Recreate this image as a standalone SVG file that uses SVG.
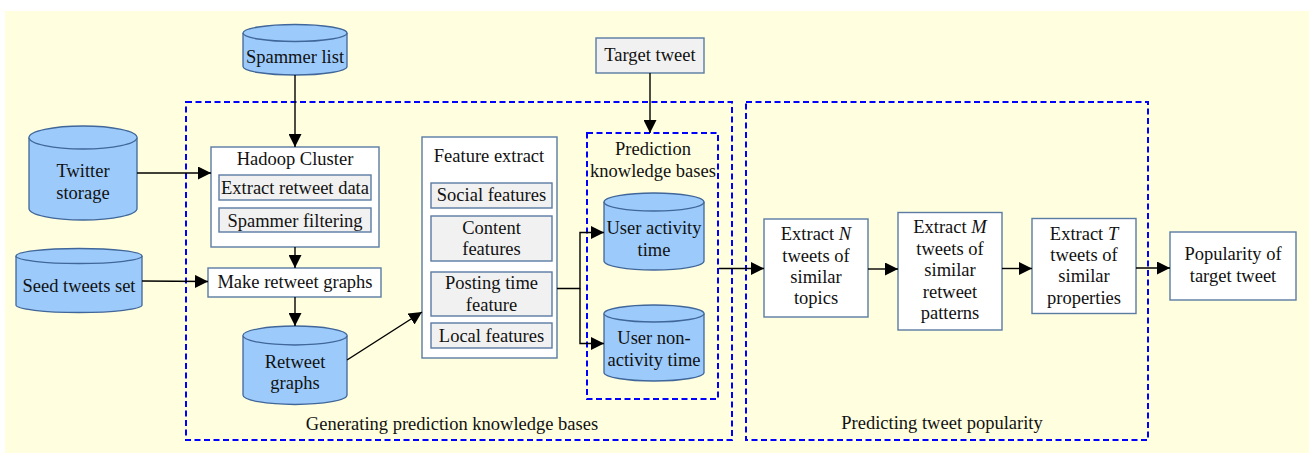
<svg xmlns="http://www.w3.org/2000/svg" width="1309" height="453" viewBox="0 0 1309 453">
<style>
text{font-family:"Liberation Serif","Times New Roman",serif;font-size:18.5px;fill:#111;text-anchor:middle}
.box{fill:#fff;stroke:#5b7ba3;stroke-width:1.4}
.inner{fill:#f1f1f1;stroke:#5b7ba3;stroke-width:1.4}
.cyl{fill:#9ccbfb;stroke:#40669a;stroke-width:1.3}
.dash{fill:none;stroke:#0000ff;stroke-width:2;stroke-dasharray:6,3.5}
.conn{fill:none;stroke:#000;stroke-width:1.4}
</style>
<defs>
<marker id="ah" markerUnits="userSpaceOnUse" markerWidth="13" markerHeight="13" refX="13" refY="6.5" orient="auto">
<path d="M0,0 L13,6.5 L0,13 z" fill="#000"/>
</marker>
</defs>
<rect x="5" y="11" width="1304" height="442" fill="#ffffdf"/>

<g id="groups">
<rect class="dash" x="186" y="102" width="546" height="338"/>
<text x="452" y="430">Generating prediction knowledge bases</text>
<rect class="dash" x="746" y="102" width="402" height="338"/>
<text x="942" y="428.5">Predicting tweet popularity</text>
</g>

<g id="spammer-list">
<path class="cyl" d="M243,33 v33.5 a52,8.5 0 0 0 104,0 v-33.5 a52,8.5 0 0 0 -104,0 z"/>
<path class="cyl" d="M243,33 a52,8.5 0 0 0 104,0" fill="none"/>
<text x="295" y="63">Spammer list</text>
</g>

<g id="twitter-storage">
<path class="cyl" d="M29,137.5 v71 a54,11.5 0 0 0 108,0 v-71 a54,11.5 0 0 0 -108,0 z"/>
<path class="cyl" d="M29,137.5 a54,11.5 0 0 0 108,0" fill="none"/>
<text x="83" y="177">Twitter</text>
<text x="83" y="199">storage</text>
</g>

<g id="seed-tweets">
<path class="cyl" d="M16,256 v49 a63,7.5 0 0 0 126,0 v-49 a63,7.5 0 0 0 -126,0 z"/>
<path class="cyl" d="M16,256 a63,7.5 0 0 0 126,0" fill="none"/>
<text x="79" y="292">Seed tweets set</text>
</g>

<g id="hadoop">
<rect class="box" x="211" y="147" width="168" height="100"/>
<text x="295" y="165">Hadoop Cluster</text>
<rect class="inner" x="219" y="175" width="152" height="25"/>
<text x="295" y="194">Extract retweet data</text>
<rect class="inner" x="219" y="208" width="152" height="24"/>
<text x="295" y="226.5">Spammer filtering</text>
</g>

<g id="make-graphs">
<rect class="box" x="208" y="268" width="173" height="29"/>
<text x="295" y="288">Make retweet graphs</text>
</g>

<g id="retweet-graphs">
<path class="cyl" d="M243,335.5 v59.5 a52,9.5 0 0 0 104,0 v-59.5 a52,9.5 0 0 0 -104,0 z"/>
<path class="cyl" d="M243,335.5 a52,9.5 0 0 0 104,0" fill="none"/>
<text x="295" y="367.5">Retweet</text>
<text x="295" y="389">graphs</text>
</g>

<g id="feature-extract">
<rect class="box" x="422" y="137" width="135" height="221"/>
<text x="489" y="162">Feature extract</text>
<rect class="inner" x="431" y="183" width="121" height="25"/>
<text x="491.5" y="200.5">Social features</text>
<rect class="inner" x="431" y="216" width="121" height="45"/>
<text x="491.5" y="233.5">Content</text>
<text x="491.5" y="254.5">features</text>
<rect class="inner" x="431" y="272" width="121" height="44"/>
<text x="491.5" y="288.5">Posting time</text>
<text x="491.5" y="310.5">feature</text>
<rect class="inner" x="431" y="323" width="121" height="25"/>
<text x="491.5" y="341.5">Local features</text>
</g>

<g id="target-tweet">
<rect class="inner" x="596" y="38" width="108" height="35"/>
<text x="650" y="61">Target tweet</text>
</g>

<g id="prediction-kb">
<rect class="dash" x="587" y="133" width="131" height="266"/>
<text x="653" y="155">Prediction</text>
<text x="653" y="176.5">knowledge bases</text>
</g>

<g id="user-activity">
<path class="cyl" d="M604,202 v59 a50,9 0 0 0 100,0 v-59 a50,9 0 0 0 -100,0 z"/>
<path class="cyl" d="M604,202 a50,9 0 0 0 100,0" fill="none"/>
<text x="654" y="233.5">User activity</text>
<text x="654" y="255.5">time</text>
</g>

<g id="user-nonactivity">
<path class="cyl" d="M604,313.5 v59 a50,8.5 0 0 0 100,0 v-59 a50,8.5 0 0 0 -100,0 z"/>
<path class="cyl" d="M604,313.5 a50,8.5 0 0 0 100,0" fill="none"/>
<text x="654" y="344">User non-</text>
<text x="654" y="366">activity time</text>
</g>

<g id="extract-n">
<rect class="box" x="764" y="219" width="104" height="98"/>
<text x="816" y="240">Extract <tspan font-style="italic">N</tspan></text>
<text x="816" y="261.5">tweets of</text>
<text x="816" y="283">similar</text>
<text x="816" y="304">topics</text>
</g>

<g id="extract-m">
<rect class="box" x="898" y="212.5" width="104" height="117.5"/>
<text x="950" y="233">Extract <tspan font-style="italic">M</tspan></text>
<text x="950" y="254.5">tweets of</text>
<text x="950" y="276">similar</text>
<text x="950" y="297.5">retweet</text>
<text x="950" y="319">patterns</text>
</g>

<g id="extract-t">
<rect class="box" x="1032" y="218.5" width="104" height="95"/>
<text x="1084" y="239.5">Extract <tspan font-style="italic">T</tspan></text>
<text x="1084" y="261">tweets of</text>
<text x="1084" y="282">similar</text>
<text x="1084" y="303.5">properties</text>
</g>

<g id="popularity">
<rect class="box" x="1170" y="232" width="126" height="68"/>
<text x="1233" y="260">Popularity of</text>
<text x="1233" y="282">target tweet</text>
</g>

<g id="connectors">
<line class="conn" x1="295" y1="75" x2="295" y2="147" marker-end="url(#ah)"/>
<line class="conn" x1="137" y1="173" x2="211" y2="173" marker-end="url(#ah)"/>
<line class="conn" x1="295" y1="247" x2="295" y2="268" marker-end="url(#ah)"/>
<line class="conn" x1="142" y1="281" x2="208" y2="281.5" marker-end="url(#ah)"/>
<line class="conn" x1="295" y1="297" x2="295" y2="326" marker-end="url(#ah)"/>
<line class="conn" x1="347" y1="360" x2="422" y2="312" marker-end="url(#ah)"/>
<polyline class="conn" points="557,288.5 580,288.5 580,232.5 604,232.5" marker-end="url(#ah)"/>
<polyline class="conn" points="580,288.5 580,343.5 604,343.5" marker-end="url(#ah)"/>
<line class="conn" x1="650" y1="73" x2="650" y2="133" marker-end="url(#ah)"/>
<line class="conn" x1="719" y1="268.5" x2="764" y2="268.5" marker-end="url(#ah)"/>
<line class="conn" x1="868" y1="269" x2="898" y2="269" marker-end="url(#ah)"/>
<line class="conn" x1="1002" y1="268.5" x2="1032" y2="268.5" marker-end="url(#ah)"/>
<line class="conn" x1="1136" y1="268" x2="1170" y2="268" marker-end="url(#ah)"/>
</g>
</svg>
